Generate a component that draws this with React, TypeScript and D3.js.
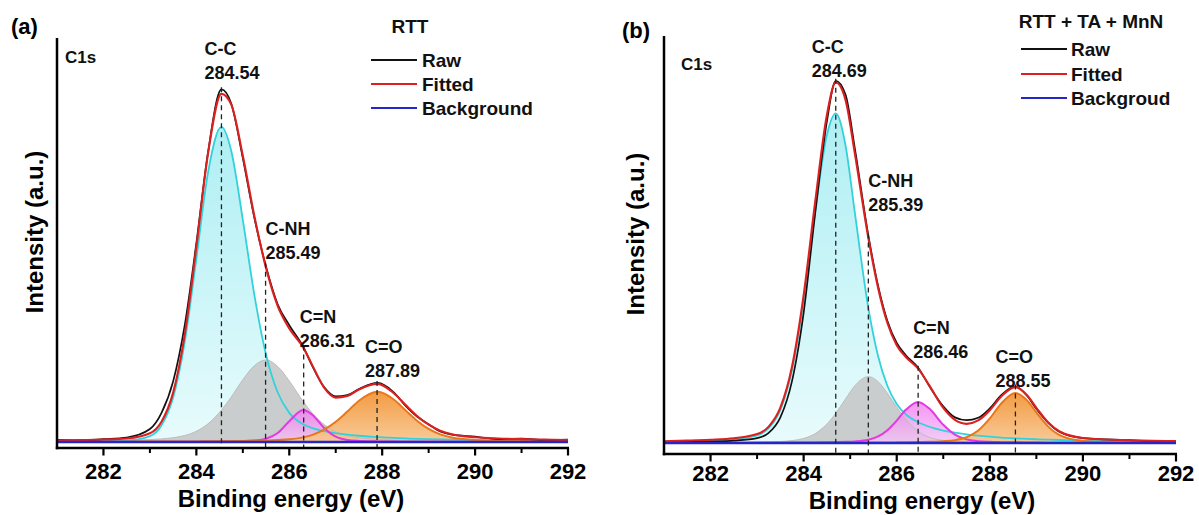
import React from 'react';
import * as d3 from 'd3';

// ---------- Panel (a) data : RTT ----------
const energyA = [281, 281.5, 282, 282.5, 283, 283.25, 283.5, 283.75, 284, 284.25, 284.54, 284.75, 285, 285.25, 285.5, 285.75, 286, 286.3, 286.5, 286.75, 287, 287.25, 287.5, 287.9, 288.25, 288.5, 288.75, 289, 289.25, 289.5, 290, 290.5, 291, 291.5, 292];
const rawA = [0.5, 0.4, 0.7, 1.1, 3.2, 7.2, 15.0, 28.9, 49.2, 71.6, 87.3, 83.8, 70.3, 55.4, 43.4, 34.1, 28.9, 23.6, 18.7, 13.6, 11.3, 11.6, 13.1, 14.6, 12.3, 9.0, 6.3, 4.4, 2.6, 1.8, 1.3, 0.7, 0.8, 0.5, 0.6];
const fitA = [0.36, 0.46, 0.59, 0.86, 2.16, 5.02, 12.21, 26.58, 48.26, 71.33, 86.18, 83.56, 70.85, 55.83, 43.05, 33.68, 28.08, 23.39, 18.89, 13.45, 10.98, 11.35, 12.99, 14.37, 12.06, 9.21, 6.44, 4.26, 2.79, 1.92, 1.17, 0.86, 0.69, 0.57, 0.48];
const ccA = [0.11, 0.15, 0.21, 0.35, 1.45, 4.13, 11.0, 24.8, 45.4, 66.6, 78.0, 72.1, 55.0, 36.3, 21.6, 12.3, 7.2, 4.36, 3.4, 2.66, 2.16, 1.8, 1.53, 1.2, 0.99, 0.87, 0.77, 0.69, 0.62, 0.56, 0.47, 0.39, 0.33, 0.29, 0.25];
const cnhA = [0.19, 0.24, 0.30, 0.41, 0.59, 0.75, 1.05, 1.6, 2.65, 4.48, 7.88, 11.1, 15.4, 18.9, 20.3, 18.7, 15.1, 10.0, 7.07, 4.3, 2.54, 1.54, 1.01, 0.63, 0.47, 0.40, 0.35, 0.30, 0.26, 0.23, 0.19, 0.15, 0.13, 0.11, 0.09];
const cnA = [0.013, 0.016, 0.02, 0.026, 0.034, 0.04, 0.048, 0.057, 0.07, 0.09, 0.115, 0.146, 0.205, 0.34, 0.79, 2.22, 5.13, 7.9, 6.67, 3.47, 1.3, 0.48, 0.25, 0.14, 0.097, 0.077, 0.063, 0.05, 0.044, 0.038, 0.028, 0.022, 0.017, 0.014, 0.012];
const coA = [0.045, 0.052, 0.062, 0.074, 0.089, 0.098, 0.11, 0.123, 0.139, 0.158, 0.185, 0.21, 0.24, 0.29, 0.36, 0.46, 0.65, 1.13, 1.75, 3.02, 4.98, 7.53, 10.2, 12.4, 10.5, 7.86, 5.26, 3.22, 1.87, 1.09, 0.48, 0.30, 0.21, 0.16, 0.125];
const peakPosA = [284.54, 285.49, 286.31, 287.89];
const peakValA = ['284.54', '285.49', '286.31', '287.89'];

// ---------- Panel (b) data : RTT + TA + MnN ----------
const energyB = [281, 281.5, 282, 282.5, 283, 283.25, 283.5, 283.75, 284, 284.25, 284.5, 284.69, 284.9, 285.1, 285.39, 285.6, 285.8, 286, 286.2, 286.46, 286.7, 287, 287.25, 287.5, 287.75, 288, 288.25, 288.55, 288.8, 289, 289.25, 289.5, 290, 290.5, 291, 291.5, 292];
const rawB = [0.2, 0.3, 0.4, 0.6, 1.2, 2.5, 6.3, 15.2, 32.0, 56.6, 79.0, 89.0, 85.6, 72.4, 51.0, 38.6, 30.0, 24.6, 21.5, 18.5, 14.0, 9.0, 6.3, 5.6, 6.2, 8.5, 11.8, 13.9, 11.6, 8.4, 5.0, 2.7, 1.2, 0.9, 0.7, 0.5, 0.5];
const fitB = [0.45, 0.59, 0.79, 1.17, 2.2, 4.03, 8.67, 18.73, 36.29, 59.42, 80.6, 88.59, 84.3, 71.15, 50.42, 38.11, 29.49, 24.04, 21.08, 18.27, 14.16, 8.61, 5.68, 4.71, 5.54, 8.06, 11.5, 13.74, 11.72, 8.65, 5.1, 2.83, 1.24, 0.87, 0.68, 0.56, 0.47];
const ccB = [0.34, 0.45, 0.62, 0.93, 1.89, 3.64, 8.16, 18.0, 35.0, 56.9, 75.7, 81.0, 73.1, 56.6, 33.2, 21.3, 14.0, 9.6, 7.0, 5.1, 4.0, 3.07, 2.53, 2.12, 1.8, 1.55, 1.34, 1.15, 1.01, 0.92, 0.83, 0.74, 0.61, 0.51, 0.43, 0.37, 0.33];
const cnhB = [0.07, 0.09, 0.11, 0.16, 0.22, 0.28, 0.38, 0.59, 1.12, 2.32, 4.65, 7.3, 10.84, 14.07, 16.3, 15.07, 12.2, 8.78, 5.68, 2.84, 1.41, 0.63, 0.39, 0.29, 0.23, 0.19, 0.16, 0.13, 0.11, 0.10, 0.09, 0.08, 0.063, 0.052, 0.043, 0.036, 0.031];
const cnB = [0.025, 0.03, 0.037, 0.047, 0.06, 0.07, 0.083, 0.098, 0.118, 0.145, 0.18, 0.22, 0.28, 0.39, 0.81, 1.62, 3.15, 5.5, 8.21, 10.1, 8.46, 4.48, 2.06, 0.89, 0.45, 0.29, 0.215, 0.16, 0.13, 0.11, 0.093, 0.078, 0.058, 0.045, 0.035, 0.029, 0.024];
const coB = [0.019, 0.022, 0.025, 0.029, 0.035, 0.038, 0.042, 0.046, 0.052, 0.058, 0.065, 0.071, 0.08, 0.089, 0.105, 0.12, 0.138, 0.16, 0.186, 0.23, 0.29, 0.43, 0.7, 1.41, 3.06, 6.03, 9.78, 12.3, 10.47, 7.52, 4.09, 1.93, 0.51, 0.26, 0.17, 0.12, 0.089];
const peakPosB = [284.69, 285.39, 286.46, 288.55];
const peakValB = ['284.69', '285.39', '286.46', '288.55'];

// ---------- shared labels ----------
const peakNames = ['C-C', 'C-NH', 'C=N', 'C=O'];
const majorTicks = [282, 284, 286, 288, 290, 292];
const minorTicks = [283, 285, 287, 289, 291];
const xDomain: [number, number] = [281, 292];
const legendLabelsA = ['Raw', 'Fitted', 'Background'];
const legendLabelsB = ['Raw', 'Fitted', 'Backgroud'];

const FONT = "'Liberation Sans', Arial, Helvetica, sans-serif";

function interp(xs: number[], ys: number[], v: number) {
  const i = d3.bisectLeft(xs, v);
  if (i <= 0) return ys[0];
  if (i >= xs.length) return ys[ys.length - 1];
  const t = (v - xs[i - 1]) / (xs[i] - xs[i - 1]);
  return ys[i - 1] + t * (ys[i] - ys[i - 1]);
}

type Layout = {
  id: string;
  x0: number; x1: number; yTop: number; axisY: number; yDomain: [number, number];
  panelLabel: { x: number; y: number; text: string };
  c1s: { x: number; y: number };
  legend: { title: string; titleX: number; titleY: number; lineX0: number; lineX1: number; textX: number; rowY: number[]; labels: string[] };
  xTitle: { x: number; y: number };
  yTitle: { x: number; y: number };
  tickLabelY: number;
  labelDx: number[];
  labelY: number[];
};

type Data = {
  energies: number[]; raw: number[]; fit: number[];
  cc: number[]; cnh: number[]; cn: number[]; co: number[];
  peakPos: number[]; peakVal: string[];
};

function Panel({ L, D }: { L: Layout; D: Data }) {
  const x = d3.scaleLinear().domain(xDomain).range([L.x0, L.x1]);
  const y = d3.scaleLinear().domain(L.yDomain).range([L.axisY, L.yTop]);
  const E = D.energies;
  const line = d3.line<number>().x((_, i) => x(E[i])).y((d) => y(d)).curve(d3.curveMonotoneX);
  const area = d3.area<number>().x((_, i) => x(E[i])).y0(y(0)).y1((d) => y(d)).curve(d3.curveMonotoneX);
  const base = d3.line<number>().x((d) => x(d)).y(() => y(0));
  const gid = (n: string) => `${n}-${L.id}`;

  return (
    <g>
      <defs>
        <linearGradient id={gid('cyan')} x1="0" y1="0" x2="0" y2="1">
          <stop offset="0%" stopColor="#aeeff4" />
          <stop offset="100%" stopColor="#e8fbfc" />
        </linearGradient>
        <linearGradient id={gid('mag')} x1="0" y1="0" x2="0" y2="1">
          <stop offset="0%" stopColor="#f27af2" />
          <stop offset="100%" stopColor="#f4c6f4" />
        </linearGradient>
        <linearGradient id={gid('org')} x1="0" y1="0" x2="0" y2="1">
          <stop offset="0%" stopColor="#f2963a" />
          <stop offset="100%" stopColor="#f8c893" />
        </linearGradient>
      </defs>

      {/* component fills */}
      <path d={area(D.cc) || ''} fill={`url(#${gid('cyan')})`} />
      <path d={area(D.cnh) || ''} fill="#c6c6c6" fillOpacity={0.88} />
      <path d={area(D.cn) || ''} fill={`url(#${gid('mag')})`} fillOpacity={0.8} />
      <path d={area(D.co) || ''} fill={`url(#${gid('org')})`} fillOpacity={0.95} />

      {/* component lines */}
      <path d={line(D.cnh) || ''} fill="none" stroke="#bdbdbd" strokeWidth={1} />
      <path d={line(D.cc) || ''} fill="none" stroke="#33d2da" strokeWidth={1.8} />
      <path d={line(D.cn) || ''} fill="none" stroke="#e03ae0" strokeWidth={2} />
      <path d={line(D.co) || ''} fill="none" stroke="#ea761a" strokeWidth={2} />

      {/* raw & fitted */}
      <path d={line(D.raw) || ''} fill="none" stroke="#111" strokeWidth={1.7} />
      <path d={line(D.fit) || ''} fill="none" stroke="#dc2020" strokeWidth={2.1} />

      {/* background */}
      <path d={base(xDomain) || ''} fill="none" stroke="#2626c8" strokeWidth={2.6} />

      {/* dashed peak markers and labels */}
      {D.peakPos.map((p, i) => {
        const top = Math.max(interp(E, D.fit, p), interp(E, D.raw, p));
        return (
          <g key={i}>
            <line x1={x(p)} x2={x(p)} y1={y(top) - 2} y2={L.axisY} stroke="#222" strokeWidth={1.3} strokeDasharray="5,4" />
            <text x={x(p) + L.labelDx[i]} y={L.labelY[i] - 24} fontFamily={FONT} fontWeight="bold" fontSize={18} fill="#111">{peakNames[i]}</text>
            <text x={x(p) + L.labelDx[i]} y={L.labelY[i]} fontFamily={FONT} fontWeight="bold" fontSize={18} fill="#111">{D.peakVal[i]}</text>
          </g>
        );
      })}

      {/* axes */}
      <line x1={L.x0} x2={L.x0} y1={L.yTop} y2={L.axisY + 1.2} stroke="#000" strokeWidth={2.5} />
      <line x1={L.x0 - 1.2} x2={x(292) + 1} y1={L.axisY} y2={L.axisY} stroke="#000" strokeWidth={2.5} />
      {majorTicks.map((t) => (
        <g key={'M' + t}>
          <line x1={x(t)} x2={x(t)} y1={L.axisY} y2={L.axisY + 7.5} stroke="#000" strokeWidth={2.2} />
          <text x={x(t)} y={L.tickLabelY} textAnchor="middle" fontFamily={FONT} fontWeight="bold" fontSize={22} fill="#000">{t}</text>
        </g>
      ))}
      {minorTicks.map((t) => (
        <line key={'m' + t} x1={x(t)} x2={x(t)} y1={L.axisY} y2={L.axisY + 5} stroke="#000" strokeWidth={2} />
      ))}

      {/* axis titles */}
      <text x={L.xTitle.x} y={L.xTitle.y} textAnchor="middle" fontFamily={FONT} fontWeight="bold" fontSize={24} fill="#000">Binding energy (eV)</text>
      <text transform={`translate(${L.yTitle.x},${L.yTitle.y}) rotate(-90)`} textAnchor="middle" fontFamily={FONT} fontWeight="bold" fontSize={24} fill="#000">Intensity (a.u.)</text>

      {/* panel label & C1s */}
      <text x={L.panelLabel.x} y={L.panelLabel.y} fontFamily={FONT} fontWeight="bold" fontSize={22} fill="#000">{L.panelLabel.text}</text>
      <text x={L.c1s.x} y={L.c1s.y} fontFamily={FONT} fontWeight="bold" fontSize={17} fill="#111">C1s</text>

      {/* legend */}
      <text x={L.legend.titleX} y={L.legend.titleY} textAnchor="middle" fontFamily={FONT} fontWeight="bold" fontSize={19} fill="#111">{L.legend.title}</text>
      {L.legend.labels.map((lab, i) => (
        <g key={lab}>
          <line x1={L.legend.lineX0} x2={L.legend.lineX1} y1={L.legend.rowY[i]} y2={L.legend.rowY[i]} stroke={['#111', '#dc2020', '#2626c8'][i]} strokeWidth={2} />
          <text x={L.legend.textX} y={L.legend.rowY[i] + 6.5} fontFamily={FONT} fontWeight="bold" fontSize={19} fill="#111">{lab}</text>
        </g>
      ))}
    </g>
  );
}

const layoutA: Layout = {
  id: 'a', x0: 57, x1: 568, yTop: 38, axisY: 448, yDomain: [-1.5, 100],
  panelLabel: { x: 11, y: 34, text: '(a)' },
  c1s: { x: 65, y: 63 },
  legend: { title: 'RTT', titleX: 410, titleY: 33, lineX0: 371, lineX1: 417, textX: 422, rowY: [60, 84, 108], labels: legendLabelsA },
  xTitle: { x: 291, y: 507 },
  yTitle: { x: 43, y: 232 },
  tickLabelY: 479,
  labelDx: [-17, 0, -4, -12],
  labelY: [79, 259, 347, 377],
};

const layoutB: Layout = {
  id: 'b', x0: 664, x1: 1176, yTop: 36, axisY: 454, yDomain: [-2.7, 100],
  panelLabel: { x: 622, y: 38, text: '(b)' },
  c1s: { x: 681, y: 70 },
  legend: { title: 'RTT + TA + MnN', titleX: 1091, titleY: 28, lineX0: 1021, lineX1: 1067, textX: 1071, rowY: [49, 74, 98], labels: legendLabelsB },
  xTitle: { x: 922, y: 509 },
  yTitle: { x: 644, y: 234 },
  tickLabelY: 481,
  labelDx: [-24, 0, -5, -20],
  labelY: [77, 211, 358, 387],
};

const dataA: Data = { energies: energyA, raw: rawA, fit: fitA, cc: ccA, cnh: cnhA, cn: cnA, co: coA, peakPos: peakPosA, peakVal: peakValA };
const dataB: Data = { energies: energyB, raw: rawB, fit: fitB, cc: ccB, cnh: cnhB, cn: cnB, co: coB, peakPos: peakPosB, peakVal: peakValB };

export default function App() {
  return (
    <svg width={1199} height={515} style={{ position: 'absolute', left: 0, top: 0, background: '#fff' }}>
      <rect x={0} y={0} width={1199} height={515} fill="#fff" />
      <Panel L={layoutA} D={dataA} />
      <Panel L={layoutB} D={dataB} />
    </svg>
  );
}
